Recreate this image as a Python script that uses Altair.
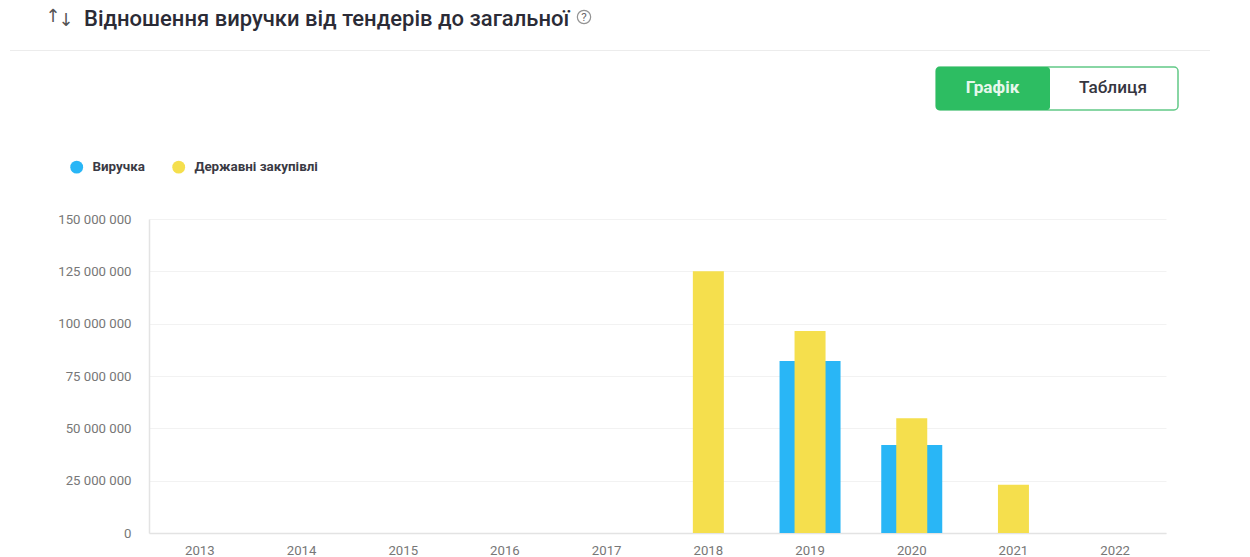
import altair as alt
import pandas as pd

years = [str(y) for y in range(2013, 2023)]
revenue = [0, 0, 0, 0, 0, 0, 82200000, 42000000, 0, 0]
tenders = [0, 0, 0, 0, 0, 125000000, 96500000, 54800000, 23000000, 0]
series_names = ["Виручка", "Державні закупівлі"]
series_colors = ["#29b6f6", "#f5df4d"]
y_ticks = [0, 25000000, 50000000, 75000000, 100000000, 125000000, 150000000]

PL, PT = 141, 211  # padding: plot area origin in page = (149, 219)
W, H = 1017, 314


def px(x):
    return x - 149


def py(y):
    return y - 219


df_rev = pd.DataFrame({"year": years, "value": revenue, "series": series_names[0]})
df_ten = pd.DataFrame({"year": years, "value": tenders, "series": series_names[1]})

x_enc = alt.X(
    "year:N",
    sort=years,
    scale=alt.Scale(domain=years, paddingInner=0, paddingOuter=0),
    axis=alt.Axis(
        title=None, labelAngle=0, ticks=False, grid=False, domainColor="#e3e3e3",
        domainWidth=1.5, labelColor="#777777", labelFont="Roboto", labelFontSize=13.2,
        labelPadding=11,
    ),
)
y_enc = alt.Y(
    "value:Q",
    scale=alt.Scale(domain=[0, 150000000], nice=False),
    axis=alt.Axis(
        title=None, values=y_ticks, ticks=False, grid=True, gridColor="#f2f2f2",
        gridWidth=1, domainColor="#e3e3e3", domainWidth=1.5, labelColor="#777777",
        labelFont="Roboto", labelFontSize=13.2, labelPadding=18,
        labelExpr="replace(format(datum.value, ','), /,/g, ' ')",
    ),
)
color_enc = alt.Color(
    "series:N",
    scale=alt.Scale(domain=series_names, range=series_colors),
    legend=alt.Legend(
        title=None, orient="none", legendX=px(70), legendY=py(160), direction="horizontal",
        symbolType="circle", symbolSize=165, symbolStrokeWidth=0, labelFont="Roboto",
        labelFontSize=13.4, labelFontWeight="bold", labelColor="#3a3a44", labelOffset=9,
        columnPadding=27, labelLimit=200,
    ),
)

bars_rev = alt.Chart(df_rev).mark_bar(size=61).encode(x=x_enc, y=y_enc, color=color_enc)
bars_ten = alt.Chart(df_ten).mark_bar(size=31).encode(x=x_enc, y=y_enc, color=color_enc)


def one():
    return alt.Chart(pd.DataFrame({"a": [0]}))


def text(s, x, y, size, color, weight="normal", align="left", font="Roboto"):
    return one().mark_text(
        text=s, font=font, fontSize=size, color=color, fontWeight=weight,
        align=align, baseline="middle",
    ).encode(x=alt.value(px(x)), y=alt.value(py(y)))


def rect(x1, x2, y1, y2, fill, stroke=None, radius=0):
    kw = {"stroke": stroke, "strokeWidth": 1.5} if stroke else {}
    return one().mark_rect(fill=fill, cornerRadius=radius, **kw).encode(
        x=alt.value(px(x1)), x2=alt.value(px(x2)), y=alt.value(py(y1)), y2=alt.value(py(y2))
    )


separator = one().mark_rule(color="#ececec", strokeWidth=1).encode(
    x=alt.value(px(10)), x2=alt.value(px(1210)), y=alt.value(py(50.5))
)
help_ring = one().mark_point(shape="circle", size=177, filled=False, color="#666666", strokeWidth=1.2).encode(
    x=alt.value(px(584)), y=alt.value(py(17))
)

chart = alt.layer(
    bars_rev,
    bars_ten,
    text("Відношення виручки від тендерів до загальної", 84, 18.5, 22, "#2b2b36", 500),
    text("↑", 53, 17, 18, "#555555", align="center", font="DejaVu Sans"),
    text("↓", 66, 21, 18, "#555555", align="center", font="DejaVu Sans"),
    help_ring,
    text("?", 584, 17.5, 11.5, "#666666", align="center"),
    separator,
    rect(936, 1178, 67, 110, "#ffffff", "#62c987", 4),
    rect(936, 1050, 67, 110, "#2dbd62", None, 3),
    text("Графік", 992.5, 88, 17.2, "#e6f7ec", "bold", "center"),
    text("Таблиця", 1113, 88, 17.2, "#36363f", 500, "center"),
).properties(
    width=W,
    height=H,
    padding={"left": PL, "top": PT, "right": 76, "bottom": 30},
    autosize=alt.AutoSizeParams(type="none"),
).configure_view(stroke=None)

chart.save("out.html", embed_options={"renderer": "svg", "actions": False})
